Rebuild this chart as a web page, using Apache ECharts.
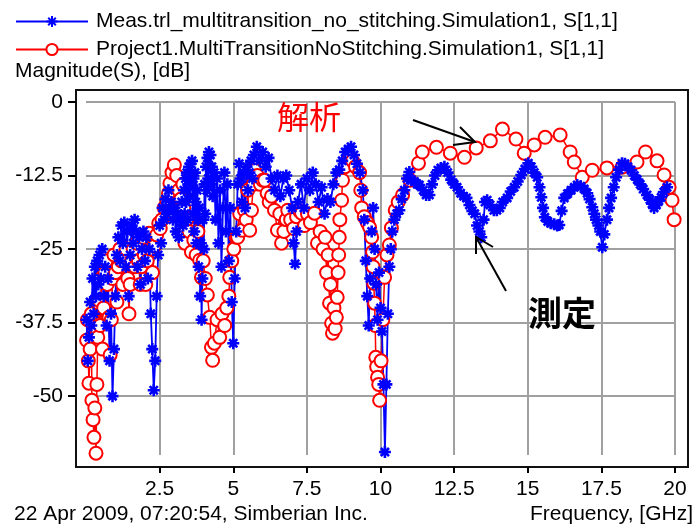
<!DOCTYPE html>
<html>
<head>
<meta charset="utf-8">
<script src="https://cdn.jsdelivr.net/npm/echarts@6.0.0/dist/echarts.min.js"></script>
<style>
  html, body { margin: 0; padding: 0; background: #fff; }
  #chart { width: 697px; height: 528px; }
</style>
</head>
<body>
<div id="chart"></div>
<script>
// measured S11 (blue, asterisks)
const measName = 'Meas.trl_multitransition_no_stitching.Simulation1, S[1,1]'
const measFreq = [
  0.02, 0.06, 0.10, 0.14, 0.18, 0.22, 0.26, 0.30, 0.34, 0.38, 0.42, 0.46, 0.50, 0.55, 0.60, 0.65, 0.70, 0.75, 0.80, 0.85,
  0.90, 0.95, 1.00, 1.05, 1.10, 1.15, 1.20, 1.25, 1.30, 1.35, 1.40, 1.45, 1.50, 1.55, 1.60, 1.65, 1.70, 1.75, 1.80, 1.85,
  1.90, 1.95, 2.00, 2.05, 2.10, 2.15, 2.20, 2.25, 2.30, 2.35, 2.40, 2.45, 2.50, 2.55, 2.60, 2.65, 2.70, 2.75, 2.80, 2.85,
  2.90, 2.95, 3.00, 3.05, 3.10, 3.15, 3.20, 3.25,
  3.300, 3.325, 3.350, 3.375, 3.400, 3.425, 3.450, 3.475, 3.500, 3.525, 3.550, 3.575, 3.600, 3.625, 3.650, 3.675, 3.700,
  3.725, 3.750, 3.775, 3.800, 3.825, 3.850, 3.875, 3.900, 3.925, 3.950, 3.975, 4.000, 4.025, 4.050, 4.075, 4.100, 4.125,
  4.150, 4.175, 4.200, 4.225, 4.250, 4.275, 4.300,
  4.35, 4.40, 4.45, 4.50, 4.55, 4.60, 4.65, 4.70, 4.75, 4.80, 4.85,
  4.90, 4.95, 5.00, 5.05, 5.10, 5.15, 5.20, 5.25, 5.30, 5.35, 5.40, 5.45, 5.50, 5.55, 5.60, 5.65, 5.70, 5.80, 5.90, 6.00,
  6.10, 6.20, 6.30, 6.40, 6.50, 6.60, 6.70, 6.80, 6.90, 7.00, 7.05, 7.10, 7.15, 7.20, 7.30, 7.40, 7.50, 7.60, 7.70, 7.80,
  7.90, 8.00, 8.10, 8.20, 8.30, 8.40, 8.50, 8.60, 8.70, 8.80, 8.90, 9.00, 9.10, 9.20, 9.30, 9.40, 9.45, 9.50, 9.55, 9.60,
  9.65, 9.70, 9.75, 9.80, 9.85, 9.90, 9.95, 10.00, 10.05, 10.10, 10.15, 10.20, 10.25, 10.30, 10.35, 10.40,
  10.47, 10.55, 10.64, 10.72, 10.81, 10.90, 10.98, 11.05, 11.15, 11.25, 11.32, 11.45, 11.55, 11.66, 11.75, 11.85, 11.95,
  12.05, 12.17, 12.28, 12.40, 12.50, 12.60, 12.72, 12.82, 12.92, 13.02, 13.12, 13.20, 13.28, 13.36, 13.42, 13.50, 13.55,
  13.62, 13.72, 13.85, 13.95, 14.05, 14.15, 14.30, 14.42, 14.54, 14.66, 14.78, 14.90, 15.02, 15.12, 15.22, 15.32, 15.40,
  15.46, 15.52, 15.58, 15.68, 15.78, 15.90, 16.00, 16.07, 16.15, 16.24, 16.35, 16.47, 16.58, 16.68, 16.80, 16.92, 17.02,
  17.10, 17.19, 17.26, 17.32, 17.40, 17.46, 17.53, 17.60, 17.69, 17.76, 17.83, 17.92, 18.00, 18.10, 18.20, 18.30, 18.40,
  18.51, 18.62, 18.72, 18.82, 18.92, 19.05, 19.15, 19.22, 19.29, 19.37, 19.45, 19.53, 19.62, 19.73
]
const measDb = [
  -37, -44, -40, -34, -38, -30, -36, -28, -33, -27, -31, -26, -30, -25, -33, -28, -38, -30, -44, -36,
  -50, -42, -33, -26, -23, -27, -21, -24, -20.5, -28, -22, -33, -26, -21, -24, -20, -22, -28, -23, -31,
  -25, -22, -27, -23, -30, -25, -36, -42, -49, -44, -33, -26, -21, -24, -18, -20, -16.5, -19, -15, -18,
  -17, -20, -18, -22, -19, -23, -20, -17,
  -21, -15, -19, -13, -17, -12, -20, -14, -11, -16, -10.5, -14, -10, -19, -13, -22, -12,
  -17, -24, -15, -20, -28, -18, -33, -24, -37, -30, -20, -25, -14, -19, -11, -15, -9.5,
  -13, -8.5, -11, -9, -14, -11, -16,
  -12, -20, -13, -24, -15, -28, -18, -12, -22, -14, -27,
  -18, -34, -41, -30, -22, -14, -10.5, -13, -17, -12, -18, -11, -15, -12, -10, -13, -9, -7.6, -10, -8.5,
  -11, -9.5, -13, -15, -12.5, -16, -13, -12.5, -15, -18, -24, -27.5, -22, -17, -14, -18, -13, -15, -12, -14,
  -17, -14.5, -19, -16.5, -17, -14, -12, -11.5, -10, -8.5, -8, -7.6, -9, -10.5, -12, -15, -20, -27, -33, -38,
  -30, -22, -18, -25, -31, -37, -29, -35, -39, -48, -59.5, -48, -36, -28, -25, -22,
  -20, -19, -18.4, -16.5, -15, -13, -11.9, -13.3, -13.5, -14, -14.1, -15, -15.8, -15.8, -14, -12.5, -11.6,
  -11.2, -11, -12, -13.2, -14, -14.5, -15.5, -16, -16.3, -17.5, -18.5, -19, -21, -22, -23, -20, -17,
  -16.7, -17.5, -18.4, -18.4, -18, -17, -16.3, -15.2, -14.5, -13.5, -12.4, -11.4, -10.4, -11, -12, -12.8, -14.5,
  -16.2, -18, -19.6, -20.3, -20.6, -20.8, -21, -20.9, -18.5, -16.3, -15.6, -15, -14.5, -14.1, -14.3, -14.8, -15.5,
  -16.5, -17.9, -19, -20, -21, -22, -24.7, -22.5, -20, -18, -16.3, -14.5, -12.8, -11.5, -10.4, -10.5, -11,
  -11.6, -12.5, -13.2, -14, -14.8, -15.8, -16.6, -17.3, -18, -17.5, -16.8, -16.2, -15.3, -14.5
]

// simulated S11 (red, circles)
const simName = 'Project1.MultiTransitionNoStitching.Simulation1, S[1,1]'
const simFreq = [
  0.02, 0.05, 0.08, 0.10, 0.14, 0.18, 0.20, 0.24, 0.27, 0.30, 0.34, 0.37, 0.40, 0.44, 0.48, 0.52, 0.56, 0.60, 0.64, 0.68,
  0.72, 0.78, 0.82, 0.86, 0.90, 0.95, 1.00, 1.05, 1.10, 1.15, 1.20, 1.25, 1.30, 1.36, 1.42, 1.46, 1.50, 1.55, 1.60, 1.66,
  1.72, 1.78, 1.84, 1.88, 1.93, 1.98, 2.03, 2.08, 2.14, 2.20, 2.26, 2.32, 2.40, 2.47, 2.52, 2.58, 2.66, 2.75, 2.80, 2.85,
  2.92, 3.00, 3.08, 3.15, 3.22, 3.29, 3.32, 3.36, 3.42, 3.50, 3.58, 3.66, 3.74, 3.80, 3.86, 3.92, 3.98, 4.05, 4.12, 4.20,
  4.26, 4.30, 4.36, 4.45, 4.54, 4.62, 4.71, 4.78, 4.85, 4.88, 4.95, 5.02, 5.10, 5.15, 5.22, 5.30, 5.38, 5.44, 5.49, 5.56,
  5.62, 5.68, 5.73, 5.82, 5.92, 6.00, 6.07, 6.15, 6.22, 6.30, 6.40, 6.50, 6.58, 6.64, 6.72, 6.80, 6.85, 6.95, 7.05, 7.15,
  7.25, 7.32, 7.42, 7.52, 7.62, 7.76, 7.86, 7.95, 8.05, 8.12, 8.17, 8.22, 8.27, 8.30, 8.34, 8.37, 8.42, 8.46, 8.50, 8.53,
  8.56, 8.58, 8.60, 8.62, 8.68, 8.71, 8.80, 8.95, 9.05, 9.15, 9.29, 9.33, 9.36, 9.45, 9.55, 9.63, 9.70, 9.73, 9.75, 9.77,
  9.80, 9.82, 9.84, 9.87, 9.90, 9.94, 9.97, 10.02, 10.08, 10.14, 10.22, 10.30, 10.37, 10.50, 10.60, 10.75, 11.00, 11.29,
  11.42, 11.90, 12.37, 12.85, 13.25, 13.73, 14.14, 14.60, 14.88, 15.22, 15.59, 16.10, 16.44, 16.58, 16.85, 17.19, 17.69,
  18.20, 18.71, 19.00, 19.39, 19.63, 19.80, 19.90, 19.97
]
const simDb = [
  -40.5, -37, -44, -47.8, -42, -36, -50.7, -54, -57, -52, -59.7, -48, -40, -33.7, -38, -30, -42, -35, -29, -27,
  -31, -36.6, -43, -37, -30, -26, -29, -34, -28, -25, -27, -31, -26, -25, -30, -36, -31, -27, -25, -28,
  -24, -27, -31, -28, -23, -26, -31, -27, -22.3, -25, -29, -24.5, -22.6, -20.6, -21.5, -20, -18, -16.7, -15.5, -13.8,
  -12, -10.7, -12.5, -15, -16.5, -14, -18, -24, -20, -22, -25.5, -23.5, -26, -22, -26.9, -29.8, -27, -30, -32.8, -36.6,
  -41.7, -43.9, -41, -37, -40, -36, -38, -35, -33, -29.8, -27, -25, -23, -23, -19, -21.8, -18.4, -20, -15, -21.8,
  -18.4, -14, -11.6, -12.5, -14, -13.3, -13.3, -15.5, -17, -16, -18.4, -21.8, -19, -24, -22, -20, -18.4, -20, -21.5, -19.5,
  -18.5, -18.9, -21, -19, -20.5, -18.9, -24, -22, -25, -23, -29, -26, -34.2, -31, -37.6, -39.3, -35, -38.5, -36.6, -33.2,
  -29, -26, -23, -20, -16.7, -13.3, -11, -9.5, -10, -11, -12, -15, -18, -19.5, -20.5, -21.3, -23, -25.5, -28, -30.8,
  -34.2, -38, -43.4, -45, -46.8, -48, -50.7, -44, -37, -29.8, -26, -24.3, -21.4, -18.4, -17, -15.8, -13.3, -10.4,
  -8.5, -7.7, -8.7, -9.4, -7.8, -6.6, -4.6, -6.3, -8.7, -7.3, -6.0, -5.6, -8.5, -10.2, -12.8, -11.6, -11.2,
  -11.1, -10.2, -8.5, -10, -12.4, -14.5, -16.7, -20
]

const freqTicks = [2.5, 5, 7.5, 10, 12.5, 15, 17.5, 20]
const dbTicks = [-50, -37.5, -25, -12.5, 0]

const FONT = 'Liberation Sans, Arial, sans-serif'
const asterisk = 'path://M5,0L5,10M0,5L10,5M1.6,1.6L8.4,8.4M1.6,8.4L8.4,1.6'

const chart = echarts.init(document.getElementById('chart'), null, { renderer: 'canvas' })
chart.setOption({
  animation: false,
  backgroundColor: '#fff',
  legend: {
    orient: 'vertical',
    left: 10,
    top: 6,
    itemWidth: 72,
    itemHeight: 14,
    itemGap: 7,
    data: [measName, simName],
    textStyle: { color: '#000', fontSize: 21, fontFamily: FONT, padding: [0, 0, 0, 3] }
  },
  grid: [
    // data area (0..20 GHz, 0..-60 dB)
    { left: 86, right: 22, top: 102, bottom: 73 },
    // outer frame
    { left: 76, right: 9, top: 90, bottom: 61, show: true, borderColor: '#111', borderWidth: 2, backgroundColor: 'transparent' }
  ],
  xAxis: [
    {
      type: 'value',
      gridIndex: 0,
      min: 0,
      max: 20,
      interval: 2.5,
      offset: 12,
      axisLine: { show: false, onZero: false },
      axisTick: { show: true, length: 6, lineStyle: { color: '#000', width: 2 }, customValues: freqTicks },
      axisLabel: { color: '#000', fontSize: 21, fontFamily: FONT, margin: 12, customValues: freqTicks },
      splitLine: { show: true, lineStyle: { color: '#a0a0a0', width: 2 } }
    },
    { type: 'value', gridIndex: 1, show: false, min: 0, max: 1 }
  ],
  yAxis: [
    {
      type: 'value',
      gridIndex: 0,
      min: -60,
      max: 0,
      offset: 10,
      axisLine: { show: false, onZero: false },
      axisTick: { show: true, length: 8, lineStyle: { color: '#000', width: 2 }, customValues: dbTicks },
      axisLabel: { color: '#000', fontSize: 21, fontFamily: FONT, margin: 13, customValues: dbTicks },
      splitLine: { show: true, lineStyle: { color: '#a0a0a0', width: 2 } }
    },
    { type: 'value', gridIndex: 1, show: false, min: 0, max: 1 }
  ],
  series: [
    {
      name: simName,
      type: 'line',
      xAxisIndex: 0,
      yAxisIndex: 0,
      clip: false,
      showAllSymbol: true,
      symbol: 'emptyCircle',
      symbolSize: 13,
      color: '#ff0000',
      lineStyle: { color: '#ff0000', width: 1.5 },
      itemStyle: { color: '#ff0000', borderColor: '#ff0000', borderWidth: 1.5 },
      data: simFreq.map((f, i) => [f, simDb[i]])
    },
    {
      name: measName,
      type: 'line',
      xAxisIndex: 0,
      yAxisIndex: 0,
      clip: false,
      showAllSymbol: true,
      symbol: asterisk,
      symbolSize: 12,
      color: '#0000ff',
      lineStyle: { color: '#0000ff', width: 1.8 },
      itemStyle: { color: '#0000ff', borderColor: '#0000ff', borderWidth: 2.6 },
      data: measFreq.map((f, i) => [f, measDb[i]])
    }
  ],
  graphic: [
    { type: 'text', left: 15, top: 61, style: { text: 'Magnitude(S), [dB]', fill: '#000', font: '21px ' + FONT } },
    { type: 'text', left: 14, top: 504, style: { text: '22 Apr 2009, 07:20:54, Simberian Inc.', fill: '#000', font: '21px ' + FONT } },
    { type: 'text', right: 4, top: 504, style: { text: 'Frequency, [GHz]', fill: '#000', font: '21px ' + FONT } },
    { type: 'text', left: 277, top: 101, z: 10, style: { text: '解析', fill: '#ff0000', font: '32px "Noto Sans CJK JP"' } },
    { type: 'text', left: 528, top: 296, z: 10, style: { text: '測定', fill: '#000', font: 'bold 34px "Noto Sans CJK JP"' } },
    // arrows
    { type: 'polyline', z: 10, shape: { points: [[413, 120], [475, 142]] }, style: { stroke: '#000', lineWidth: 2, fill: null } },
    { type: 'polyline', z: 10, shape: { points: [[460, 127], [475, 142], [453, 145]] }, style: { stroke: '#000', lineWidth: 2, fill: null } },
    { type: 'polyline', z: 10, shape: { points: [[506, 291], [476, 237]] }, style: { stroke: '#000', lineWidth: 2, fill: null } },
    { type: 'polyline', z: 10, shape: { points: [[476, 254], [476, 237], [493, 247]] }, style: { stroke: '#000', lineWidth: 2, fill: null } }
  ]
})
</script>
</body>
</html>
